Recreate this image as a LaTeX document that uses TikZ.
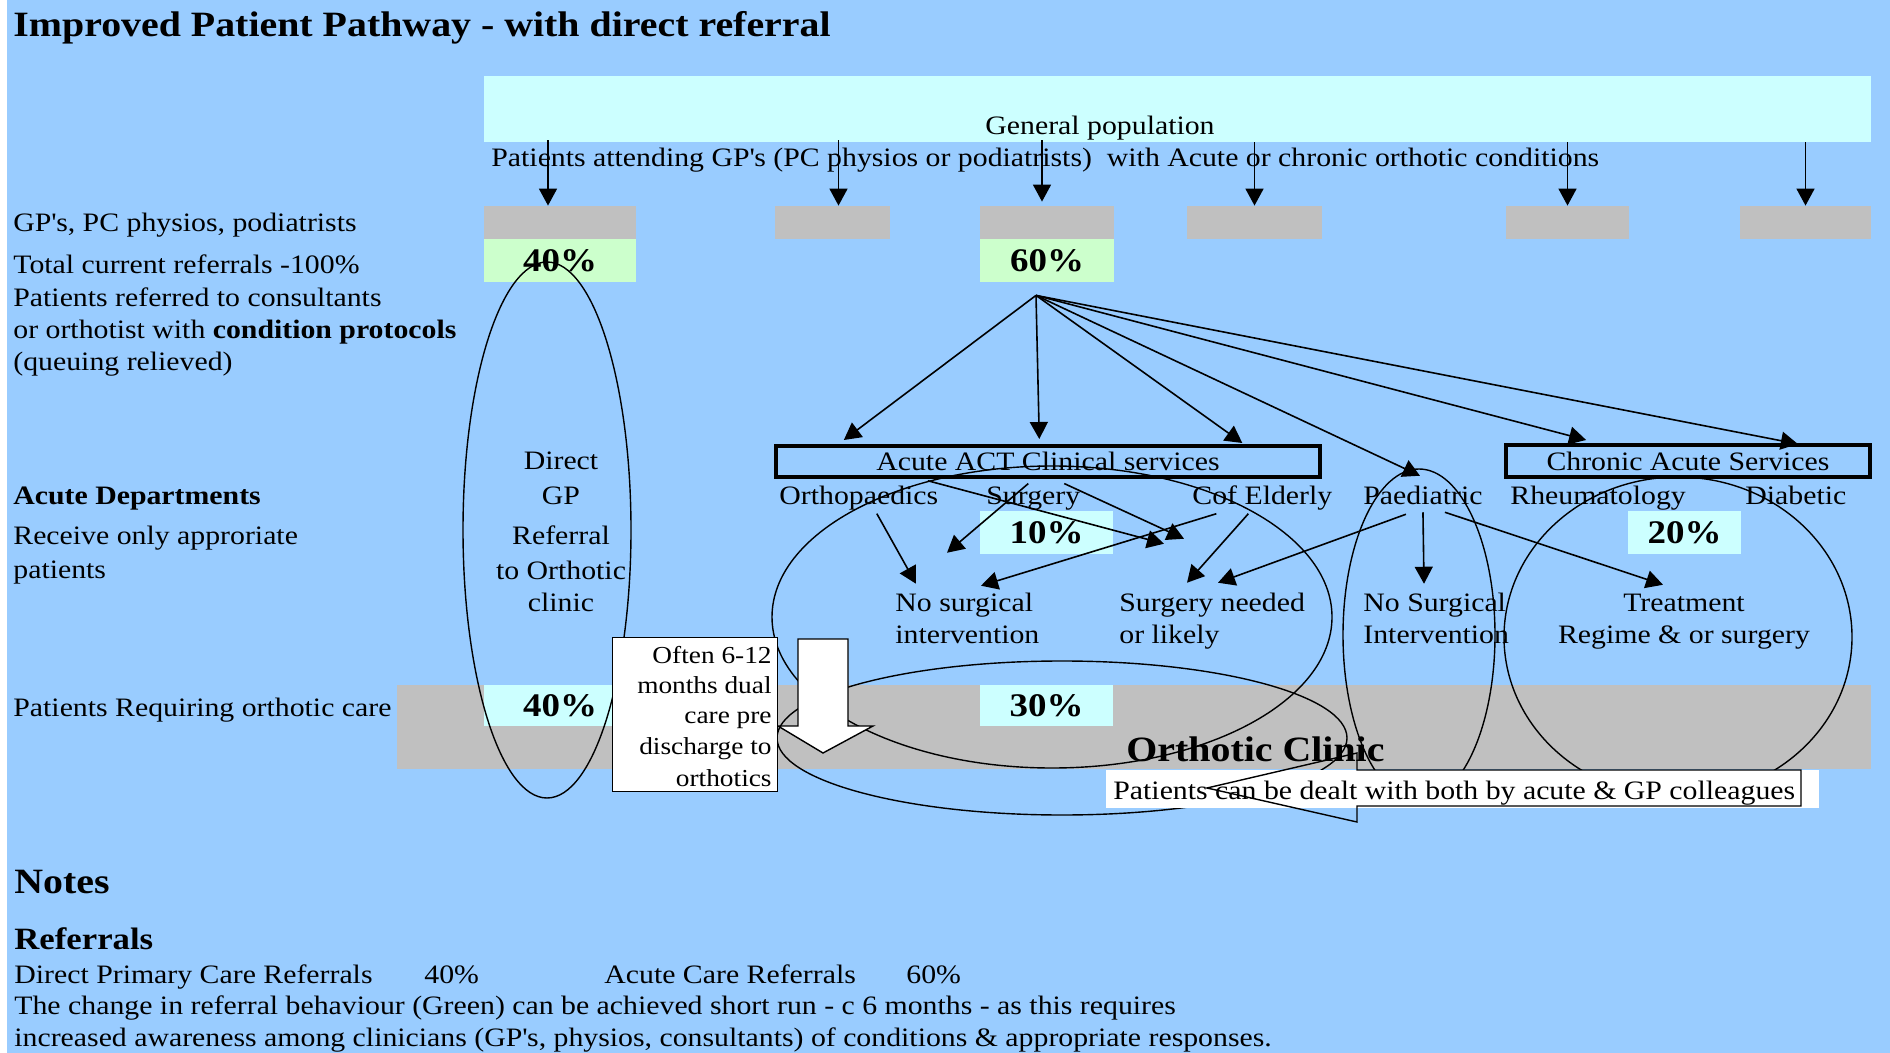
\documentclass[tikz,border=0pt]{standalone}
\usepackage{fontspec}
\setmainfont{Liberation Serif}[FakeStretch=1.12]
\usetikzlibrary{arrows.meta,calc}
\definecolor{skyback}{HTML}{99CCFF}
\definecolor{palecyan}{HTML}{CCFFFF}
\definecolor{palegreen}{HTML}{CCFFCC}
\definecolor{cellgrey}{HTML}{C0C0C0}
\tikzset{
  >={Triangle[length=8.5pt,width=9pt]},
}
\tikzstyle{conn}=[->,line width=0.8pt]
\tikzstyle{ring}=[line width=0.7pt]
\tikzstyle{every node}=[inner sep=0pt,font=\fontsize{13.3pt}{16pt}\selectfont]
\tikzstyle{txt}=[anchor=base west,yshift=-0.8pt]
\tikzstyle{ctxt}=[anchor=base,yshift=-0.8pt]
\tikzstyle{rtxt}=[anchor=base east,yshift=-0.8pt,font=\fontsize{12.2pt}{15pt}\selectfont]
\tikzstyle{big}=[anchor=base west,yshift=-0.8pt,font=\fontsize{17.8pt}{21pt}\selectfont\bfseries]
\tikzstyle{subhead}=[anchor=base west,yshift=-0.8pt,font=\fontsize{15.5pt}{18pt}\selectfont\bfseries]
\tikzstyle{pct}=[font=\fontsize{16.5pt}{20pt}\selectfont\bfseries]
\tikzstyle{service}=[draw,line width=2pt]

\begin{document}
\begin{tikzpicture}[x=0.5pt,y=-0.5pt]
  \useasboundingbox (0,0) rectangle (1890,1053);
  \fill[skyback] (7,0) rectangle (1890,1053);

  \node[big] (title) at (13,35) {Improved Patient Pathway - with direct referral};

  % general population and first contact
  \node[fill=palecyan,minimum width=693.5pt,minimum height=33pt] (genpop) at (1177.5,109) {};
  \node[ctxt] (genpoptxt) at (1100,133) {General population};
  \node[txt] (attend) at (491,165) {Patients attending GP\textquotesingle s (PC physios or podiatrists)~ with Acute or chronic orthotic conditions};
  \node[fill=cellgrey,minimum width=76pt,minimum height=16.5pt] (gp1) at (560,222.5) {};
  \node[fill=cellgrey,minimum width=57.5pt,minimum height=16.5pt] (gp2) at (832.5,222.5) {};
  \node[fill=cellgrey,minimum width=67pt,minimum height=16.5pt] (gp3) at (1047,222.5) {};
  \node[fill=cellgrey,minimum width=67.5pt,minimum height=16.5pt] (gp4) at (1254.5,222.5) {};
  \node[fill=cellgrey,minimum width=61.5pt,minimum height=16.5pt] (gp5) at (1567.5,222.5) {};
  \node[fill=cellgrey,minimum width=65.5pt,minimum height=16.5pt] (gp6) at (1805.5,222.5) {};
  \node[pct,fill=palegreen,minimum width=76pt,minimum height=21.5pt] (grn1) at (560,260.5) {40\%};
  \node[pct,fill=palegreen,minimum width=67pt,minimum height=21.5pt] (grn2) at (1047,260.5) {60\%};

  % left hand labels
  \node[txt] (lgp) at (13,230) {GP\textquotesingle s, PC physios, podiatrists};
  \node[txt] (ltotal) at (13,272) {Total current referrals -100\%};
  \node[txt] (lref) at (13,305) {Patients referred to consultants};
  \node[txt] (lref2) at (13,337) {or orthotist with \textbf{condition protocols}};
  \node[txt] (lref3) at (13,369) {(queuing relieved)};
  \node[txt] (lacute) at (13,503) {\bfseries Acute Departments};
  \node[txt] (lrecv) at (13,543) {Receive only approriate};
  \node[txt] (lrecv2) at (13,577) {patients};
  \node[txt] (lortho) at (13,715) {Patients Requiring orthotic care};

  % orthotic care band
  \node[fill=cellgrey,minimum width=737pt,minimum height=42pt] (band) at (1134,727) {};
  \node[pct,fill=palecyan,minimum width=76pt,minimum height=20.5pt] (cy1) at (560,705.5) {40\%};
  \node[pct,fill=palecyan,minimum width=66.5pt,minimum height=20.5pt] (cy2) at (1046.5,705.5) {30\%};
  \node[pct,fill=palecyan,minimum width=66.5pt,minimum height=21.5pt] (cy3) at (1046.5,532.5) {10\%};
  \node[pct,fill=palecyan,minimum width=56.5pt,minimum height=21.5pt] (cy4) at (1684.5,532.5) {20\%};
  \node[big] (clinic) at (1126,760) {Orthotic Clinic};

  % direct GP column
  \node[ctxt] (dir1) at (561,468) {Direct};
  \node[ctxt] (dir2) at (561,503) {GP};
  \node[ctxt] (dir3) at (561,543) {Referral};
  \node[ctxt] (dir4) at (561,578) {to Orthotic};
  \node[ctxt] (dir5) at (561,610) {clinic};

  % services and departments
  \node[service,minimum width=272pt,minimum height=15.5pt] (acute) at (1048,461.5) {Acute ACT Clinical services};
  \node[service,minimum width=182pt,minimum height=16pt] (chronic) at (1688,461) {Chronic Acute Services};
  \node[txt] (ortho) at (779,503) {Orthopaedics};
  \node[txt] (surg) at (986,503) {Surgery};
  \node[txt] (cofe) at (1192,503) {Cof Elderly};
  \node[txt] (paed) at (1363,503) {Paediatric};
  \node[txt] (rheum) at (1510,503) {Rheumatology};
  \node[txt] (diab) at (1745,503) {Diabetic};

  % outcomes
  \node[txt] (nosurg) at (895,610) {No surgical};
  \node[txt] (nosurgb) at (895,642) {intervention};
  \node[txt] (surgneed) at (1119,610) {Surgery needed};
  \node[txt] (surgneedb) at (1119,642) {or likely};
  \node[txt] (nosurgc) at (1363,610) {No Surgical};
  \node[txt] (nosurgd) at (1363,642) {Intervention};
  \node[ctxt] (treat) at (1684,610) {Treatment};
  \node[ctxt] (treatb) at (1684,642) {Regime \& or surgery};

  % population -> clinicians
  \draw[conn] ($(gp1.north |- genpop.south)+(-12,-2)$) -- ($(gp1.north)+(-12,0)$);
  \draw[conn] ($(gp2.north |- genpop.south)+(6,-2)$) -- ($(gp2.north)+(6,0)$);
  \draw[conn] ($(gp3.north |- genpop.south)+(-5,-2)$) -- ($(gp3.north)+(-5,-4)$);
  \draw[conn] (gp4.north |- genpop.south) -- (gp4.north);
  \draw[conn] (gp5.north |- genpop.south) -- (gp5.north);
  \draw[conn] (gp6.north |- genpop.south) -- (gp6.north);

  % 60% fan out
  \coordinate (hub) at ([shift={(-11,13)}]grn2.south);
  \draw[conn] (hub) -- ($(ortho.north |- acute.north)+(-15,-4)$);
  \draw[conn] (hub) -- ($(surg.north |- acute.north)+(6,-5)$);
  \draw[conn] (hub) -- ($(cofe.north |- acute.north)+(-20,-1)$);
  \draw[conn] (hub) -- ([shift={(-3,-10)}]paed.north);
  \draw[conn] (hub) -- ($(rheum.north |- chronic.north)+(-12,-3)$);
  \draw[conn] (hub) -- ($(diab.north |- chronic.north)+(2,1)$);

  % departments -> outcomes
  \draw[conn] ([shift={(18,3)}]ortho.south) -- ([shift={(21,-9)}]nosurg.north west);
  \draw[conn] ([shift={(-5,-3)}]surg.north) -- ([shift={(52,-40)}]nosurg.north west);
  \draw[conn] ([shift={(31,-3)}]surg.north) -- ([shift={(65,-54)}]surgneed.north west);
  \draw[conn] ([shift={(69,-5)}]ortho.north) -- ([shift={(45,-49)}]surgneed.north west);
  \draw[conn] ([shift={(-46,3)}]cofe.south) -- ([shift={(86,-7)}]nosurg.north west);
  \draw[conn] ([shift={(-14,3)}]cofe.south) -- ([shift={(68,-10)}]surgneed.north west);
  \draw[conn] ([shift={(-17,9)}]paed.south) -- ([shift={(99,-10)}]surgneed.north west);
  \draw[conn] ([shift={(0,7)}]paed.south) -- ([shift={(61,-9)}]nosurgc.north west);
  \draw[conn] ([shift={(22,7)}]paed.south) -- ([shift={(-21,-9)}]treat.north);

  % groupings
  \draw[ring] (547,530) ellipse [x radius=42pt,y radius=134pt];
  \draw[ring] (1052,617) ellipse [x radius=140pt,y radius=75.5pt];
  \draw[ring] (1062,738) ellipse [x radius=142.5pt,y radius=38.5pt];
  \draw[ring] (1419,635) ellipse [x radius=38pt,y radius=83pt];
  \draw[ring] (1678,637) ellipse [x radius=87pt,y radius=80pt];

  % discharge arrow and note
  \draw[ring,fill=white] (798,639) -- (848,639) -- (848,726) -- (873,726) -- (823,753) -- (778,726) -- (798,726) -- cycle;
  \node[draw,fill=white,line width=0.7pt,minimum width=82.5pt,minimum height=77pt] (note) at (695,714.5) {};
  \node[rtxt] (note1) at (772,662) {Often 6-12};
  \node[rtxt] (note2) at (772,692) {months dual};
  \node[rtxt] (note3) at (772,722) {care pre};
  \node[rtxt] (note4) at (772,753) {discharge to};
  \node[rtxt] (note5) at (772,785) {orthotics};

  % shared care callout
  \fill[white] (1106,770) rectangle (1819,808);
  \node[txt] (dealt) at (1113,798) {Patients can be dealt with both by acute \& GP colleagues};
  \draw[ring] (1357,770) -- (1801,770) -- (1801,806) -- (1357,806) -- (1357,822) -- (1207,788) -- (1357,753) -- cycle;

  % notes
  \node[big] (notes) at (14,892) {Notes};
  \node[subhead] (refs) at (14,948) {Referrals};
  \node[txt] (refdirect) at (14,982) {Direct Primary Care Referrals};
  \node[txt] (refdirectpc) at (424,982) {40\%};
  \node[txt] (refacute) at (604,982) {Acute Care Referrals};
  \node[txt] (refacutepc) at (906,982) {60\%};
  \node[txt] (change1) at (14,1013) {The change in referral behaviour (Green) can be achieved short run - c 6 months - as this requires};
  \node[txt] (change2) at (14,1045) {increased awareness among clinicians (GP\textquotesingle s, physios, consultants) of conditions \& appropriate responses.};
\end{tikzpicture}
\end{document}
